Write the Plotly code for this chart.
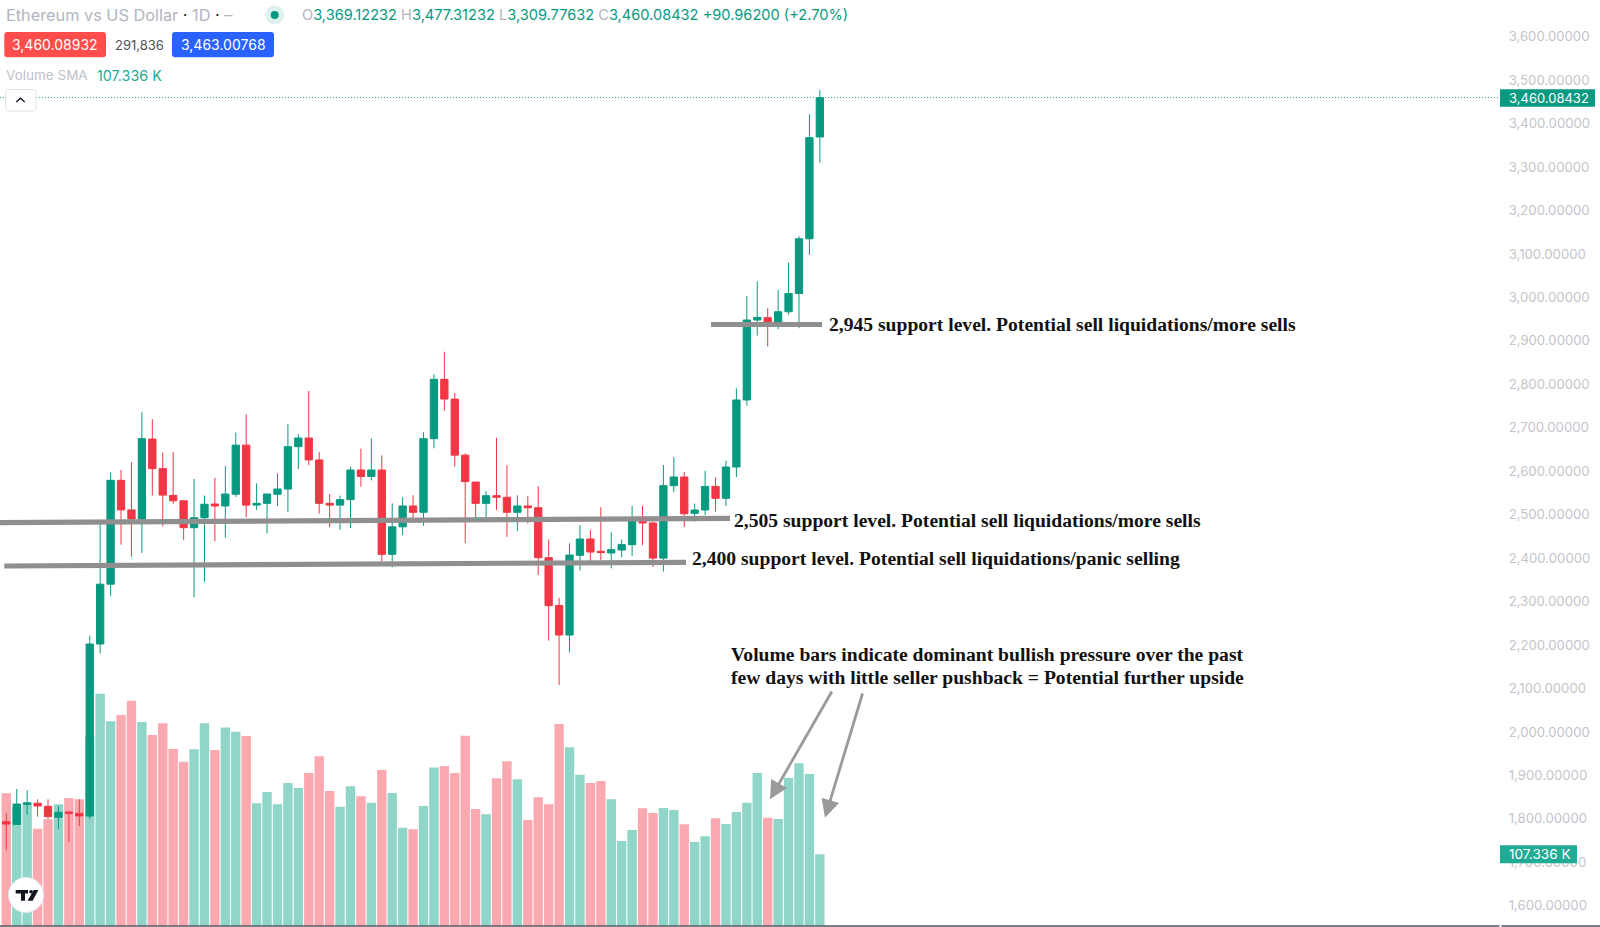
import plotly.graph_objects as go

W, H = 1600, 927
PLOT_R = 1500

opens = [1793.4,1787,1833,1836,1828.7,1803.4,1815.7,1812.6,1806.5,2202.3,2340,2579,2511,2490,2674,2606,2544.5,2532,2470,2493,
         2524.5,2520,2547,2660,2522,2526,2547,2559,2656.5,2676.4,2626,2526,2522,2534.5,2602.8,2588,2602.8,2408.7,2472,2520,
         2505.4,2675,2811.5,2766,2637,2575,2526,2543.7,2540,2505.4,2520,2516,2401,2291,2223,2406.4,2444,2415.6,2411.8,2418.7,
         2431,2484,2481,2400,2566.7,2586.7,2503,2510.7,2565,2537.6,2609.7,2764,2948,2953.4,2937,2967,3009,3135,3369.12232]
highs = [1812.6,1868.6,1866,1844.8,1844.8,1829.5,1817,1844.8,2221.5,2478.5,2597.5,2603,2620.5,2735.6,2720,2643,2644,2532,2582,2544,
         2585,2612,2689,2731,2572,2547.5,2595,2709,2685.6,2784.6,2644,2547.5,2543.7,2610.5,2652,2675,2636.5,2526,2540,2544.5,
         2689.5,2823,2875,2780.8,2641,2576,2554.5,2677,2614,2544.5,2543,2566,2443,2309,2434,2476,2464.7,2517,2459.3,2443,
         2520,2520,2484,2614.3,2632,2598,2525.3,2601,2586,2624,2790.8,3003,3037,2975,3017,3080,3141,3421.4,3477.31232]
lows = [1728,1787,1809.5,1805,1798.8,1777,1747,1783.4,1800,2181,2313,2431,2403,2412,2544,2473,2525,2442,2310,2346,
        2438.6,2447,2541,2494.6,2510.7,2457,2520,2506,2605,2614,2502.3,2471,2465,2469.3,2564.4,2579,2391.8,2378.8,2453,2491.5,
        2474.7,2652.7,2739.4,2610.5,2434,2491.5,2491.5,2510.7,2449,2462.4,2480,2361,2210,2108,2183,2371,2393,2393,2376.5,2402,
        2405,2430,2380,2369,2552,2471,2484,2499,2507,2520,2586.7,2751,2912,2887,2927,2960,2929,3098,3309.77632]
closes = [1788,1834,1837,1829.5,1805,1815,1812.6,1806.5,2202.3,2340,2579,2511,2490,2675,2606,2545,2532,2470,2493,2524,
          2520,2547.5,2660,2522,2526,2547.5,2559,2656.5,2676.4,2626,2526,2522,2534.5,2602.8,2588,2602.8,2408.7,2472,2520,2505.4,
          2675,2811.5,2766,2637,2576,2526,2543.7,2540,2505.4,2520,2516,2401,2290.5,2223,2407,2444,2414,2413,2419.4,2431,
          2484,2481,2400,2566.7,2586.7,2502,2510.7,2565,2537.6,2609.7,2764,2948,2954,2939,2967,3009,3135,3367.7,3460.08432]
volumes_k = [199.3,179.2,184.2,146,160,182.7,192.2,190.2,284.7,349.5,307.8,317.4,339,306.8,287.2,304.8,266.1,247,265.6,304.8,
             264.6,298.3,292.2,285.7,184.2,201.3,182.7,214.9,207.3,229.9,255,202.8,179.2,209.8,194.8,185.2,234.4,199.8,147.5,145,
             180.2,238,240.5,229.9,286.2,175.7,167.6,221.9,247.5,220.4,159.1,193.2,182.7,303.8,268.6,227.4,214.9,217.9,190.2,127.4,
             144,176.7,169.6,177.2,174.2,152.5,125.9,134.4,161.6,153,171.1,185.2,229.9,162.6,160.6,222.9,244.5,228.4,107.336]
days = list(range(len(closes)))
price_ticks = list(range(1600, 3700, 100))

GREEN, RED = "#089981", "#F23645"
VOL_G, VOL_R = "#8FD5C8", "#FBA9B0"
GREY_TXT = "#B2B5BE"
FONT = "Inter"
SERIF = "Liberation Serif"

# pixel <-> data calibration of the chart
k_x0, k_dx = 6.3, 10.43
def xi(px): return (px - k_x0) / k_dx
def price(py): return 3684.5 - 2.3015 * py
def xp(px): return px / W
def yp(py): return 1 - py / H

fig = go.Figure()
fig.add_trace(go.Bar(x=days, y=volumes_k, yaxis="y2",
                     marker=dict(color=[VOL_G if c >= o else VOL_R for o, c in zip(opens, closes)], line_width=0),
                     hoverinfo="skip", showlegend=False))
fig.add_trace(go.Candlestick(x=days, open=opens, high=highs, low=lows, close=closes, yaxis="y",
                             increasing=dict(line=dict(color=GREEN, width=1), fillcolor=GREEN),
                             decreasing=dict(line=dict(color=RED, width=1), fillcolor=RED),
                             whiskerwidth=0, hoverinfo="skip", showlegend=False))

shapes = []
def seg(x0, y0, x1, y1, color, w, dash="solid", xref="paper", yref="paper"):
    shapes.append(dict(type="line", xref=xref, yref=yref, x0=x0, y0=y0, x1=x1, y1=y1,
                       line=dict(color=color, width=w, dash=dash)))
def poly(points, fill, line="rgba(0,0,0,0)", lw=0):
    d = "M" + " L".join(f"{xp(a):.5f},{yp(b):.5f}" for a, b in points) + " Z"
    shapes.append(dict(type="path", xref="paper", yref="paper", path=d, fillcolor=fill, line=dict(color=line, width=lw)))
def rrect(x0, y0, x1, y1, r, fill, line="rgba(0,0,0,0)", lw=0):
    X = lambda a: f"{xp(a):.5f}"
    Y = lambda b: f"{yp(b):.5f}"
    d = (f"M{X(x0+r)},{Y(y0)} L{X(x1-r)},{Y(y0)} Q{X(x1)},{Y(y0)} {X(x1)},{Y(y0+r)} L{X(x1)},{Y(y1-r)} "
         f"Q{X(x1)},{Y(y1)} {X(x1-r)},{Y(y1)} L{X(x0+r)},{Y(y1)} Q{X(x0)},{Y(y1)} {X(x0)},{Y(y1-r)} "
         f"L{X(x0)},{Y(y0+r)} Q{X(x0)},{Y(y0)} {X(x0+r)},{Y(y0)} Z")
    shapes.append(dict(type="path", xref="paper", yref="paper", path=d, fillcolor=fill, line=dict(color=line, width=lw)))
def circ(cx, cy, r, fill, line="rgba(0,0,0,0)", lw=0):
    shapes.append(dict(type="circle", xref="paper", yref="paper", x0=xp(cx-r), x1=xp(cx+r), y0=yp(cy+r), y1=yp(cy-r),
                       fillcolor=fill, line=dict(color=line, width=lw)))

# last price dotted line
seg(0, 3460.08432, PLOT_R / W, 3460.08432, "#2FB39C", 1, "1px,2px", "paper", "y")
# support lines
LINE = "#8F8F8F"
seg(xi(0), price(522.7), xi(730), price(518.3), LINE, 5.2, xref="x", yref="y")
seg(xi(4.3), price(566), xi(686), price(562.3), LINE, 5.2, xref="x", yref="y")
seg(xi(711), price(324.5), xi(822), price(324.5), LINE, 5.2, xref="x", yref="y")
# bottom border
seg(0, yp(926), xp(1499.5), yp(926), "#50535E", 1.5)
seg(xp(1501.5), yp(926), 1, yp(926), "#50535E", 1.5)
# price tags
shapes.append(dict(type="rect", xref="paper", yref="paper", x0=xp(1500), x1=xp(1595), y0=yp(106.7), y1=yp(89.3), fillcolor=GREEN, line_width=0))
shapes.append(dict(type="rect", xref="paper", yref="paper", x0=xp(1500), x1=xp(1577), y0=yp(863.3), y1=yp(845.3), fillcolor="#22AB94", line_width=0))
# header chips
rrect(4.3, 32, 106, 57.3, 3, "#FF4D4D")
rrect(172, 32, 274, 57.3, 3, "#2962FF")
circ(274.7, 15, 9.5, "#DDF1ED")
circ(274.7, 15, 4, GREEN)
# collapse button
rrect(5.5, 89.5, 36, 111, 3, "#FFFFFF", "#E0E3EB", 1)
shapes.append(dict(type="path", xref="paper", yref="paper",
                   path=f"M{xp(16.3)},{yp(102)} L{xp(20.5)},{yp(98.3)} L{xp(24.7)},{yp(102)}",
                   line=dict(color="#131722", width=1.4)))
# TradingView badge
circ(26, 895, 17.5, "#FFFFFF", "#E4E6EC", 1)
poly([(15.7, 890), (28, 890), (28, 893.4), (25, 893.4), (25, 900.8), (21, 900.8), (21, 893.4), (15.7, 893.4)], "#131722")
circ(31, 891.8, 1.8, "#131722")
poly([(33.6, 890), (38.4, 890), (32.6, 900.8), (27.6, 900.8)], "#131722")

annotations = []
def txt(x, y, s, size, color, anchor="left", family=FONT, bold=False):
    annotations.append(dict(xref="paper", yref="paper", x=xp(x), y=yp(y), text=f"<b>{s}</b>" if bold else s, showarrow=False,
                            xanchor=anchor, yanchor="middle", align=anchor,
                            font=dict(family=family, size=size, color=color)))

def dark(s): return f'<span style="color:#131722">{s}</span>'
def val(s): return f'<span style="color:{GREEN}">{s}</span>'
txt(3.5, 15.3, f"Ethereum vs US Dollar {dark('·')} 1D {dark('·')} –", 16.3, GREY_TXT)
txt(300, 15.3, f"O{val('3,369.12232')} H{val('3,477.31232')} L{val('3,309.77632')} C{val('3,460.08432')} "
             f"{val('+90.96200 (+2.70%)')}", 14.6, GREY_TXT)
txt(55, 45, "3,460.08932", 14, "#FFFFFF", "center")
txt(139, 45, "291,836", 13, "#50535E", "center")
txt(223, 45, "3,463.00768", 14, "#FFFFFF", "center")
txt(3.5, 75, "Volume SMA", 13.5, "#C0C2C9")
txt(95, 75, "107.336 K", 14.3, "#22AB94")
txt(1507, 98, "3,460.08432", 13, "#FFFFFF")
txt(1507, 854, "107.336 K", 13.6, "#FFFFFF")

SZ = 19.6
txt(826.5, 324.3, "2,945 support level. Potential sell liquidations/more sells", SZ, "#111111", family=SERIF, bold=True)
txt(731.5, 520.3, "2,505 support level. Potential sell liquidations/more sells", SZ, "#111111", family=SERIF, bold=True)
txt(690, 558.3, "2,400 support level. Potential sell liquidations/panic selling", SZ, "#111111", family=SERIF, bold=True)
txt(987.7, 654.5, "Volume bars indicate dominant bullish pressure over the past", SZ, "#111111", "center", SERIF, True)
txt(987.7, 677.2, "few days with little seller pushback = Potential further upside", SZ, "#111111", "center", SERIF, True)

ARROW = "#9A9A9A"
for (tx, ty, sx, sy) in [(770, 799.3, 832.7, 690), (825, 817.7, 863, 692)]:
    annotations.append(dict(xref="paper", yref="paper", x=xp(tx), y=yp(ty), ax=sx - tx, ay=sy - ty, text="",
                            showarrow=True, arrowhead=2, arrowsize=1.3, arrowwidth=2.8, arrowcolor=ARROW))

fig.update_layout(
    width=W, height=H, autosize=False, margin=dict(l=0, r=0, t=0, b=0),
    paper_bgcolor="white", plot_bgcolor="white", showlegend=False, bargap=0.1, boxgap=0.3, boxgroupgap=0,
    xaxis=dict(domain=[0, PLOT_R / W], range=[xi(0), xi(PLOT_R)], visible=False, rangeslider=dict(visible=False),
               showgrid=False, zeroline=False, fixedrange=True),
    yaxis2=dict(domain=[0, 1], range=[-2.26, 1395.2], visible=False, showgrid=False, zeroline=False, fixedrange=True),
    yaxis=dict(domain=[0, 1], range=[price(H), price(0)], overlaying="y2", side="right", anchor="x",
               tickmode="array", tickvals=price_ticks, tickformat=",.5f",
               tickfont=dict(family=FONT, size=13.2, color="#C3C5CC"),
               ticks="outside", ticklen=5, tickcolor="rgba(0,0,0,0)", showline=False,
               showgrid=False, zeroline=False, fixedrange=True),
    shapes=shapes, annotations=annotations,
)
fig.write_html("out.html", config=dict(displayModeBar=False, staticPlot=False),
               post_script="document.body.style.margin='0';document.body.style.overflow='hidden';")
